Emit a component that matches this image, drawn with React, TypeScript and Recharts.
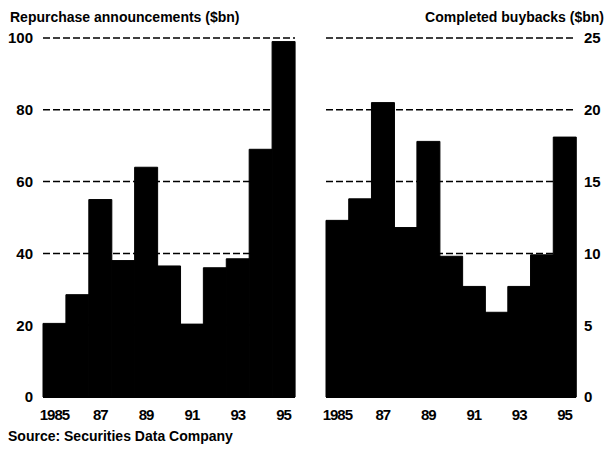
import React from "react";
import { BarChart, Bar, XAxis, YAxis, CartesianGrid } from "recharts";

const years = ["1985", "1986", "1987", "1988", "1989", "1990", "1991", "1992", "1993", "1994", "1995"];
const announcements = [20.5, 28.5, 55, 38, 64, 36.5, 20.3, 36, 38.5, 69, 99];
const completed = [12.3, 13.8, 20.5, 11.8, 17.8, 9.8, 7.7, 5.9, 7.7, 9.9, 18.1];
const leftTicks = [0, 20, 40, 60, 80, 100];
const rightTicks = [0, 5, 10, 15, 20, 25];

const font = "'Liberation Sans', Arial, sans-serif";

const leftData = years.map((y, i) => ({ year: y, value: announcements[i] }));
const rightData = years.map((y, i) => ({ year: y, value: completed[i] }));

const yearLabel = (y: string) => (y === "1985" ? y : y.slice(2));

const yTick = { fontSize: 15, fontWeight: 700, fill: "#000", fontFamily: font };
const xTick = { fontSize: 15, fontWeight: 700, fill: "#000", fontFamily: font, letterSpacing: -1 };

export default function App() {
    return (
        <div style={{ position: "absolute", left: 0, top: 0, width: 612, height: 449, background: "#fff" }}>
            <div style={{ position: "absolute", left: 10, top: 9, fontFamily: font, fontWeight: 700, fontSize: 14 }}>
                Repurchase announcements ($bn)
            </div>
            <div style={{ position: "absolute", right: 8, top: 9, fontFamily: font, fontWeight: 700, fontSize: 14 }}>
                Completed buybacks ($bn)
            </div>

            <div style={{ position: "absolute", left: 0, top: 0 }}>
                <BarChart width={306} height={449} data={leftData} barCategoryGap={0} margin={{ top: 38, right: 11, bottom: 32, left: 0 }}>
                    <CartesianGrid vertical={false} stroke="#000" strokeDasharray="7 3" strokeWidth={1.5} />
                    <XAxis
                        dataKey="year"
                        interval={1}
                        height={20}
                        tickFormatter={yearLabel}
                        tickLine={false}
                        axisLine={{ stroke: "#000", strokeWidth: 2 }}
                        tick={xTick}
                        tickMargin={6}
                    />
                    <YAxis
                        domain={[0, 100]}
                        ticks={leftTicks}
                        width={43}
                        axisLine={false}
                        tickLine={false}
                        tick={yTick}
                        tickMargin={4}
                    />
                    <Bar dataKey="value" fill="#000" stroke="#000" strokeWidth={1} isAnimationActive={false} />
                </BarChart>
            </div>

            <div style={{ position: "absolute", left: 306, top: 0 }}>
                <BarChart width={306} height={449} data={rightData} barCategoryGap={0} margin={{ top: 38, right: 0, bottom: 32, left: 20 }}>
                    <CartesianGrid vertical={false} stroke="#000" strokeDasharray="7 3" strokeWidth={1.5} />
                    <XAxis
                        dataKey="year"
                        interval={1}
                        height={20}
                        tickFormatter={yearLabel}
                        tickLine={false}
                        axisLine={{ stroke: "#000", strokeWidth: 2 }}
                        tick={xTick}
                        tickMargin={6}
                    />
                    <YAxis
                        orientation="right"
                        domain={[0, 25]}
                        ticks={rightTicks}
                        width={36}
                        axisLine={false}
                        tickLine={false}
                        tick={yTick}
                        tickMargin={2}
                    />
                    <Bar dataKey="value" fill="#000" stroke="#000" strokeWidth={1} isAnimationActive={false} />
                </BarChart>
            </div>

            <div style={{ position: "absolute", left: 8, top: 428, fontFamily: font, fontWeight: 700, fontSize: 14 }}>
                Source: Securities Data Company
            </div>
        </div>
    );
}
